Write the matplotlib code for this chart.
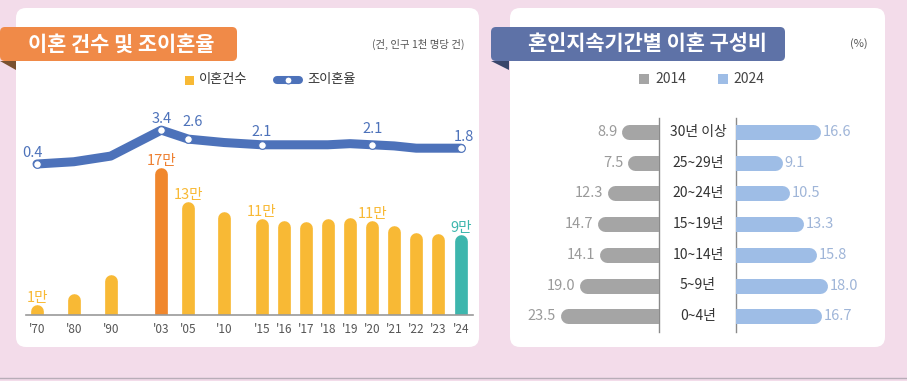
import matplotlib.pyplot as plt
import matplotlib.transforms as mtransforms
from matplotlib.patches import FancyBboxPatch, Polygon, Rectangle

plt.rcParams['font.family'] = ['Noto Sans CJK KR', 'DejaVu Sans']

# ---- data: divorces (thousand) and crude divorce rate (per 1,000 people)
years = ["'70", "'80", "'90", "'03", "'05", "'10", "'15", "'16", "'17",
         "'18", "'19", "'20", "'21", "'22", "'23", "'24"]
divorces = [11.6, 23.7, 45.7, 166.6, 128.0, 116.9, 109.2, 107.3, 106.0,
            108.7, 110.8, 106.5, 101.7, 93.2, 92.4, 91.2]
crude_rate = [0.4, 0.6, 1.1, 3.4, 2.6, 2.3, 2.1, 2.1, 2.1,
              2.1, 2.2, 2.1, 2.0, 1.8, 1.8, 1.8]
bar_labels = ["1만", "", "", "17만", "13만", "", "11만", "", "",
              "", "", "11만", "", "", "", "9만"]
rate_marked = [0, 3, 4, 6, 11, 15]

# ---- data: divorce share by marriage duration (%)
durations = ["30년 이상", "25~29년", "20~24년", "15~19년", "10~14년", "5~9년", "0~4년"]
share_2014 = [8.9, 7.5, 12.3, 14.7, 14.1, 19.0, 23.5]
share_2024 = [16.6, 9.1, 10.5, 13.3, 15.8, 18.0, 16.7]

# ---- layout / colours
xpos = [0, 1.66, 3.32, 5.6, 6.82, 8.43, 10.13, 11.12, 12.11, 13.1,
        14.1, 15.1, 16.09, 17.08, 18.07, 19.1]
YELLOW, ORANGE, TEAL = '#f8b935', '#f0872d', '#3db6ad'
BLUE = '#4d72ba'
GRAY_BAR, BLUE_BAR = '#a5a5a5', '#9ebde6'
bar_colors = [YELLOW] * len(divorces)
bar_colors[3] = ORANGE
bar_colors[-1] = TEAL
label_colors = [YELLOW] * len(divorces)
label_colors[3] = '#ee8133'
label_colors[-1] = TEAL

W, H = 907, 381
fig = plt.figure(figsize=(W / 100, H / 100), dpi=100)
fig.patch.set_facecolor('#f3dcea')

# canvas in pixel coordinates (y down)
cv = fig.add_axes([0, 0, 1, 1])
cv.set_xlim(0, W)
cv.set_ylim(H, 0)
cv.axis('off')

# panels
for x0, w in [(16, 463), (510, 375)]:
    cv.add_patch(FancyBboxPatch((x0, 8), w, 339, boxstyle='round,pad=0,rounding_size=10',
                                fc='white', ec='none'))
cv.plot([0, W], [378, 378], color='#b8adb8', lw=1)

# title ribbons
cv.add_patch(FancyBboxPatch((0, 27), 237, 34, boxstyle='round,pad=0,rounding_size=5',
                            fc='#f08a48', ec='none'))
cv.add_patch(Polygon([(0, 61), (16, 61), (16, 70)], closed=True, fc='#7a5130', ec='none'))
cv.text(121, 44, '이혼 건수 및 조이혼율', color='white', fontsize=15, fontweight='bold',
        ha='center', va='center')
cv.add_patch(FancyBboxPatch((491, 27), 294, 34, boxstyle='round,pad=0,rounding_size=5',
                            fc='#5e72a7', ec='none'))
cv.add_patch(Polygon([(491, 61), (509, 61), (509, 70)], closed=True, fc='#38456b', ec='none'))
cv.text(647, 44, '혼인지속기간별 이혼 구성비', color='white', fontsize=15, fontweight='bold',
        ha='center', va='center')

cv.text(465, 44, '(건, 인구 1천 명당 건)', color='#555555', fontsize=7.5, ha='right', va='center')
cv.text(868, 44, '(%)', color='#555555', fontsize=8, ha='right', va='center')

# left legend
cv.add_patch(Rectangle((185, 75.5), 9, 9, fc=YELLOW, ec='none'))
cv.text(199, 80, '이혼건수', fontsize=9.5, color='#333333', va='center')
cv.plot([277, 299], [80, 80], lw=5.8, color=BLUE, solid_capstyle='round')
cv.plot([288], [80], 'o', ms=5, mfc='white', mec=BLUE, mew=0.8)
cv.text(307, 80, '조이혼율', fontsize=9.5, color='#333333', va='center')

# right legend
cv.add_patch(Rectangle((639, 74), 10, 10, fc=GRAY_BAR, ec='none'))
cv.text(655, 79, '2014', fontsize=10, color='#444444', va='center')
cv.add_patch(Rectangle((718, 74), 10, 10, fc=BLUE_BAR, ec='none'))
cv.text(733, 79, '2024', fontsize=10, color='#444444', va='center')


def px_axes(x0, y0, x1, y1):
    ax = fig.add_axes([x0 / W, 1 - y1 / H, (x1 - x0) / W, (y1 - y0) / H])
    ax.patch.set_alpha(0)
    for s in ax.spines.values():
        s.set_visible(False)
    return ax


# ---- left chart: bars + line
unit_px = 22.2      # px per x unit
bar_k = 0.882       # px per thousand
axb = px_axes(20, 95, 478, 315)
axb.set_xlim(-17 / unit_px, 441 / unit_px)
axb.set_ylim(0, 220 / bar_k)
bar_w = 12.7
r = bar_w / 2 / bar_k
for x, v, c in zip(xpos, divorces, bar_colors):
    axb.plot([x, x], [0, v - r], lw=bar_w * 0.72, color=c, solid_capstyle='round')
for x, v, t, c in zip(xpos, divorces, bar_labels, label_colors):
    if t:
        axb.annotate(t, (x, v), xytext=(0, 0), textcoords='offset points',
                     ha='center', va='bottom', fontsize=10.5, color=c)
axb.axhline(0, xmin=6 / 458, xmax=453 / 458, color='#9a9a9a', lw=1.2, clip_on=False)
axb.set_xticks(xpos, years)
axb.set_yticks([])
axb.tick_params(axis='x', length=0, pad=6, labelsize=8.5, labelcolor='#555555')

rate_k = 11.3
axl = axb.twinx()
for s in axl.spines.values():
    s.set_visible(False)
axl.set_ylim(0.4 - 151 / rate_k, 0.4 + 69 / rate_k)
axl.set_yticks([])
axl.plot(xpos, crude_rate, color=BLUE, lw=6.5, solid_joinstyle='round',
         solid_capstyle='round', marker='o', markevery=rate_marked, ms=5.5,
         mfc='white', mec=BLUE, mew=0.8)
rate_offsets = {0: (-3, 3), 3: (0, 3), 4: (3, 7), 6: (0, 4), 11: (0, 6), 15: (2, 3)}
for i in rate_marked:
    axl.annotate(f'{crude_rate[i]:.1f}', (xpos[i], crude_rate[i]), xytext=rate_offsets[i],
                 textcoords='offset points', ha='center', va='bottom',
                 fontsize=10.5, color=BLUE)

# ---- right chart: butterfly bars
rows = list(range(len(durations)))
row_px = 30.7
ylim = ((340 - 132) / row_px, (110 - 132) / row_px)
left_k, right_k = 4.2, 5.1
thick = 15

axL = px_axes(545, 110, 659, 340)
axL.set_xlim(114 / left_k, 0)
axL.set_ylim(*ylim)
axR = px_axes(736, 110, 860, 340)
axR.set_xlim(0, 124 / right_k)
axR.set_ylim(*ylim)
for ax in (axL, axR):
    ax.set_xticks([])
    ax.set_yticks([])

rl = thick / 2 / left_k
for y, v in zip(rows, share_2014):
    axL.plot([0, v - rl], [y, y], lw=thick * 0.72, color=GRAY_BAR, solid_capstyle='round')
    axL.annotate(f'{v:.1f}', (v, y), xytext=(-3, 0), textcoords='offset points',
                 ha='right', va='center', fontsize=10.5, color='#9a9a9a')
rr = thick / 2 / right_k
for y, v in zip(rows, share_2024):
    axR.plot([0, v - rr], [y, y], lw=thick * 0.72, color=BLUE_BAR, solid_capstyle='round')
    axR.annotate(f'{v:.1f}', (v, y), xytext=(1.5, 0), textcoords='offset points',
                 ha='left', va='center', fontsize=10.5, color='#9fb5d8')

trans = mtransforms.blended_transform_factory(cv.transData, axL.transData)
for y, name in zip(rows, durations):
    cv.text(698, y, name, transform=trans, ha='center', va='center',
            fontsize=10, color='#333333')
for xv in (659, 736):
    cv.plot([xv, xv], [118, 332], color='#8a8a8a', lw=1)

fig.savefig('out.png', dpi=100, facecolor=fig.get_facecolor())
